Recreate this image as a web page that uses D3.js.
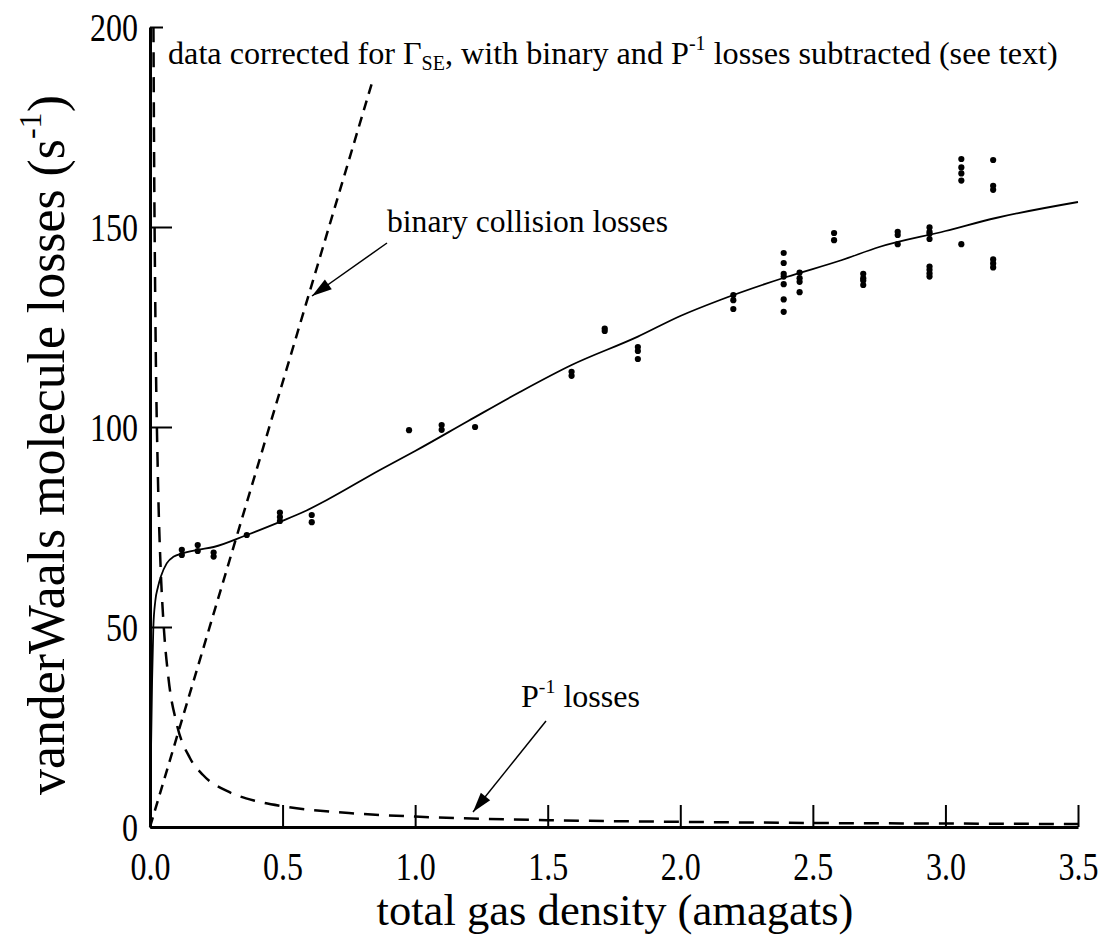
<!DOCTYPE html>
<html>
<head>
<meta charset="utf-8">
<script src="https://cdn.jsdelivr.net/npm/d3@7"></script>
<style>
  body { margin: 0; background: #fff; }
  svg { display: block; }
</style>
</head>
<body>
<div class="vis"></div>
<script>
// ticks
const xTicks = [0, 0.5, 1.0, 1.5, 2.0, 2.5, 3.0, 3.5];
const yTicks = [0, 50, 100, 150, 200];

// measured points: one density per column, the losses read at that density
const dotDensity = [0.12, 0.18, 0.24, 0.365, 0.49, 0.61, 0.977, 1.10, 1.226, 1.59, 1.715, 1.84,
  2.2, 2.39, 2.45, 2.58, 2.69, 2.82, 2.94, 3.06, 3.18];
const dotLosses = [
  [68, 69.3], [69, 70.5], [67.6, 68.6], [73], [76.5, 77.5, 78.6], [76.2, 78],
  [99.2], [99.3, 100.5], [100], [112.8, 113.8], [124, 124.6], [117, 119, 120],
  [129.5, 131.7, 133], [128.8, 131.9, 135.7, 137.6, 138.3, 141, 143.5],
  [133.7, 136.3, 137.2, 138.6], [146.7, 148.5], [135.5, 136.6, 137.2, 138.3],
  [145.7, 148, 148.8], [137.6, 138.4, 139.3, 140.1, 147, 148.3, 148.8, 149.9],
  [145.7, 161.6, 163.4, 164.9, 167], [139.9, 140.9, 141.9, 159.3, 160.3, 166.75]
];

// solid fitted curve
const fitDensity = [0, 0.004, 0.008, 0.0126, 0.02, 0.03, 0.041, 0.063, 0.09, 0.12, 0.18, 0.24,
  0.365, 0.49, 0.58, 0.667, 0.867, 1.0, 1.2, 1.395, 1.59, 1.84, 2.0, 2.15, 2.4, 2.61, 2.75,
  3.0, 3.19, 3.5];
const fitLoss = [0, 20, 37, 50, 56.5, 60, 62.6, 65.9, 67.6, 68.4, 69.3, 70.0,
  73, 76.3, 78.8, 81.75, 89.25, 94, 101.5, 108.75, 115.5, 122.6, 127.75, 131.75, 137.5, 141.75, 145,
  149, 152.25, 156.25];

// binary collision losses (dashed straight line)
const binaryDensity = [0, 0.9];
const binaryLoss = [0, 200];

// P^-1 losses (dashed)
const pInvDensity = [0.013, 0.015, 0.02, 0.03, 0.04, 0.05, 0.07, 0.1, 0.15, 0.2, 0.3, 0.4, 0.5,
  0.75, 1.0, 1.5, 2.0, 2.5, 3.0, 3.5];
const pInvLoss = [200, 173, 130, 87, 65, 52, 37, 26, 17.3, 13, 8.7, 6.5, 5.2,
  3.5, 2.6, 1.7, 1.3, 1.0, 0.87, 0.74];

const FONT = "'Liberation Serif', 'Times New Roman', Times, serif";
const W = 1102, H = 939;
const svg = d3.select(".vis").append("svg").attr("width", W).attr("height", H);

const x = d3.scaleLinear().domain([0, 3.5]).range([150, 1078]);
const y = d3.scaleLinear().domain([0, 200]).range([827, 27]);

// axes
const xAxis = svg.append("g")
  .attr("transform", "translate(0," + y(0) + ")")
  .call(d3.axisBottom(x).tickValues(xTicks).tickFormat(d3.format(".1f"))
    .tickSize(-22).tickSizeOuter(0).tickPadding(19));
const yAxis = svg.append("g")
  .attr("transform", "translate(" + x(0) + ",0)")
  .call(d3.axisLeft(y).tickValues(yTicks).tickFormat(d3.format("d"))
    .tickSize(-22).tickSizeOuter(0).tickPadding(12));

[xAxis, yAxis].forEach(function (a) {
  a.attr("font-family", null).attr("font-size", null);
  a.select(".domain").attr("stroke", "#000").attr("stroke-width", 3);
  a.selectAll(".tick line").attr("stroke", "#000").attr("stroke-width", 2);
  a.selectAll(".tick text")
    .style("font-family", FONT).style("font-size", "32px").attr("fill", "#000")
    .attr("transform", "scale(1,1.28)");
});
xAxis.selectAll(".tick").filter(d => d === 0).select("line").remove();

// P^-1 losses
svg.append("path")
  .datum(d3.zip(pInvDensity, pInvLoss))
  .attr("fill", "none").attr("stroke", "#000").attr("stroke-width", 2.5)
  .attr("stroke-dasharray", "15,10")
  .attr("d", d3.line().x(d => x(d[0])).y(d => y(d[1])).curve(d3.curveMonotoneX));

// binary collision losses
svg.append("path")
  .datum(d3.zip(binaryDensity, binaryLoss))
  .attr("fill", "none").attr("stroke", "#000").attr("stroke-width", 2.5)
  .attr("stroke-dasharray", "10,7")
  .attr("d", d3.line().x(d => x(d[0])).y(d => y(d[1])));

// fit
svg.append("path")
  .datum(d3.zip(fitDensity, fitLoss))
  .attr("fill", "none").attr("stroke", "#000").attr("stroke-width", 1.8)
  .attr("d", d3.line().x(d => x(d[0])).y(d => y(d[1])).curve(d3.curveMonotoneX));

// data points
const dots = [];
dotDensity.forEach(function (d, i) {
  dotLosses[i].forEach(function (v) { dots.push([d, v]); });
});
svg.selectAll("circle.pt")
  .data(dots)
  .enter()
  .append("circle")
  .attr("class", "pt")
  .attr("cx", d => x(d[0]))
  .attr("cy", d => y(d[1]))
  .attr("r", 3.1)
  .attr("fill", "#000");

// text with sub/superscripts, sized to a given width
function richText(px, py, parts, size, width, anchor) {
  const t = svg.append("text")
    .attr("x", px).attr("y", py)
    .style("font-family", FONT)
    .style("font-size", size + "px")
    .attr("fill", "#000")
    .attr("text-anchor", anchor || "start");
  parts.forEach(function (p) {
    const s = t.append("tspan").text(p[0]);
    if (p[1] === "sup") s.style("font-size", "0.62em").attr("dy", "-0.72em");
    if (p[1] === "sub") s.style("font-size", "0.62em").attr("dy", "0.3em");
    if (p[1] === "afterSup") s.attr("dy", "0.446em");
    if (p[1] === "afterSub") s.attr("dy", "-0.186em");
  });
  if (width) {
    const cur = t.node().getComputedTextLength();
    t.style("font-size", (size * width / cur) + "px");
  }
  return t;
}

// white box behind the top annotation (hides the end of the binary line)
svg.append("rect")
  .attr("x", 163).attr("y", 26).attr("width", 900).attr("height", 52)
  .attr("fill", "#fff");

richText(168, 64, [
  ["data corrected for \u0393"], ["SE", "sub"], [", with binary and P", "afterSub"],
  ["-1", "sup"], [" losses subtracted (see text)", "afterSup"]
], 28, 890);

richText(387, 232, [["binary collision losses"]], 28, 281);
richText(521, 707, [["P"], ["-1", "sup"], [" losses", "afterSup"]], 28, 119);

// arrows
function arrow(x1, y1, x2, y2) {
  svg.append("line")
    .attr("x1", x1).attr("y1", y1).attr("x2", x2).attr("y2", y2)
    .attr("stroke", "#000").attr("stroke-width", 1.5);
  const a = Math.atan2(y2 - y1, x2 - x1);
  const len = 20, half = 6;
  const bx = x2 - len * Math.cos(a), by = y2 - len * Math.sin(a);
  const p = [
    [x2, y2],
    [bx + half * Math.sin(a), by - half * Math.cos(a)],
    [bx - half * Math.sin(a), by + half * Math.cos(a)]
  ];
  svg.append("polygon").attr("points", p.map(q => q.join(",")).join(" ")).attr("fill", "#000");
}
arrow(387, 243, 312, 296);
arrow(546, 721, 473, 812);

// axis titles
richText(615, 925, [["total gas density (amagats)"]], 40, 477, "middle");
const yt = richText(0, 0, [["vanderWaals molecule losses  (s"], ["-1", "sup"], [")", "afterSup"]], 46, 700, "middle");
yt.attr("transform", "translate(64,445) rotate(-90)");
</script>
</body>
</html>
